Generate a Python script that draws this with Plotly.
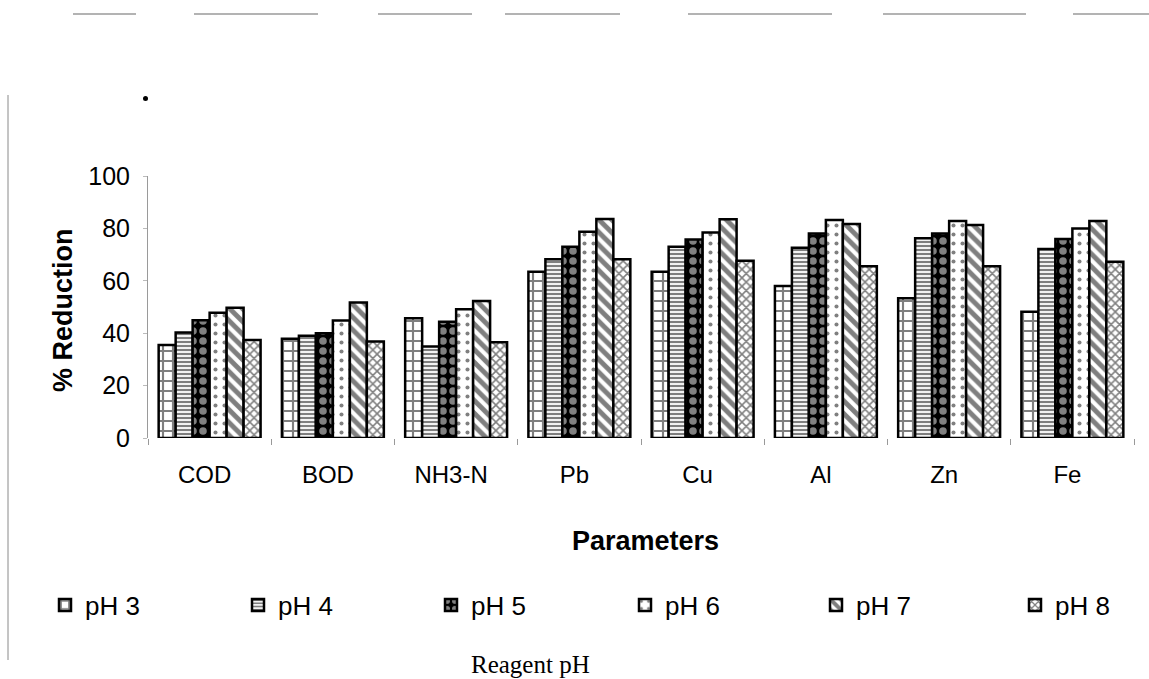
import plotly.graph_objects as go

# Parameters measured after coagulation at each reagent pH
parameters = ["COD", "BOD", "NH3-N", "Pb", "Cu", "Al", "Zn", "Fe"]

ph3 = [35.5, 37.9, 45.7, 63.5, 63.5, 58.0, 53.3, 48.2]
ph4 = [40.3, 39.0, 34.9, 68.2, 73.0, 72.6, 76.2, 72.1]
ph5 = [44.9, 40.0, 44.4, 73.0, 75.8, 78.1, 78.1, 76.0]
ph6 = [47.8, 44.8, 49.1, 78.7, 78.4, 83.2, 82.8, 80.0]
ph7 = [49.7, 51.7, 52.3, 83.6, 83.5, 81.7, 81.3, 82.8]
ph8 = [37.4, 36.8, 36.5, 68.2, 67.7, 65.6, 65.6, 67.3]

series_names = ["pH 3", "pH 4", "pH 5", "pH 6", "pH 7", "pH 8"]
series_values = [ph3, ph4, ph5, ph6, ph7, ph8]

y_ticks = [0, 20, 40, 60, 80, 100]

# Monochrome hatch fills, one per pH level
patterns = [
    dict(shape="+", fgcolor="black", bgcolor="white", size=10, solidity=0.38),
    dict(shape="-", fgcolor="black", bgcolor="white", size=4, solidity=0.55),
    dict(shape=".", fgcolor="white", bgcolor="black", size=10, solidity=0.45),
    dict(shape=".", fgcolor="black", bgcolor="white", size=9, solidity=0.16),
    dict(shape="\\", fgcolor="black", bgcolor="white", size=9, solidity=0.55),
    dict(shape="x", fgcolor="black", bgcolor="white", size=6, solidity=0.45),
]

W, H = 1149, 679
L, R, T, B = 148, 15, 176, 241
pw, ph = W - L - R, H - T - B


def px_x(px):
    return (px - L) / pw


def px_y(py):
    return (H - B - py) / ph


legend_left = [45, 238, 431, 625, 816, 1015]
legend_ids = ["legend", "legend2", "legend3", "legend4", "legend5", "legend6"]

fig = go.Figure()
for name, vals, pat, lid in zip(series_names, series_values, patterns, legend_ids):
    fig.add_trace(go.Bar(
        name=name,
        x=parameters,
        y=vals,
        legend=lid,
        marker=dict(color="white", line=dict(color="black", width=2.5), pattern=pat),
    ))

font_sans = "Liberation Sans, Arial, sans-serif"

layout_legends = {}
for lid, lx in zip(legend_ids, legend_left):
    layout_legends[lid] = dict(
        x=px_x(lx), y=px_y(605), xref="paper", yref="paper",
        xanchor="left", yanchor="middle",
        orientation="h", bgcolor="rgba(0,0,0,0)",
        font=dict(family=font_sans, size=26, color="black"),
        itemwidth=30,
    )

fig.update_layout(
    width=W, height=H,
    margin=dict(l=L, r=R, t=T, b=B),
    paper_bgcolor="white", plot_bgcolor="white",
    barmode="group", bargap=0.173, bargroupgap=0,
    showlegend=True,
    **layout_legends,
)

fig.update_xaxes(
    showgrid=False, showline=False, zeroline=False,
    ticks="outside", tickson="boundaries", ticklen=6, tickcolor="#999",
    tickfont=dict(family=font_sans, size=24, color="black"),
    ticklabelstandoff=20, ticklabelshift=-5,
)
fig.update_yaxes(
    range=[0, 100], tickvals=y_ticks,
    showgrid=False, zeroline=False,
    showline=True, linecolor="#9a9a9a", linewidth=1,
    ticks="outside", ticklen=4, tickcolor="#bbb",
    tickfont=dict(family=font_sans, size=25, color="black"),
    ticklabelstandoff=8,
)

# Axis titles and caption
fig.add_annotation(
    text="<b>% Reduction</b>", textangle=-90,
    x=px_x(63), y=px_y(310), xref="paper", yref="paper",
    xanchor="center", yanchor="middle",
    showarrow=False, font=dict(family=font_sans, size=27, color="black"),
)
fig.add_annotation(
    text="<b>Parameters</b>",
    x=px_x(645), y=px_y(541), xref="paper", yref="paper",
    xanchor="center", yanchor="middle",
    showarrow=False, font=dict(family=font_sans, size=27, color="black"),
)
fig.add_annotation(
    text="Reagent pH",
    x=px_x(530), y=px_y(664), xref="paper", yref="paper",
    xanchor="center", yanchor="middle",
    showarrow=False, font=dict(family="Liberation Serif, Times New Roman, serif", size=25, color="black"),
)

# Page frame remnants: left rule and dashed top rule
fig.add_shape(type="line", xref="paper", yref="paper",
              x0=px_x(8), x1=px_x(8), y0=px_y(95), y1=px_y(660),
              line=dict(color="#8a8a8a", width=1))
top_segments = [(73, 136), (194, 318), (378, 472), (505, 620), (688, 832), (883, 1026), (1073, 1149)]
for a, b in top_segments:
    fig.add_shape(type="line", xref="paper", yref="paper",
                  x0=px_x(a), x1=px_x(b), y0=px_y(14), y1=px_y(14),
                  line=dict(color="#9a9a9a", width=1.5))
fig.add_shape(type="circle", xref="paper", yref="paper",
              x0=px_x(143), x1=px_x(148), y0=px_y(96), y1=px_y(101),
              fillcolor="black", line=dict(width=0))

fig.write_html("out.html")
